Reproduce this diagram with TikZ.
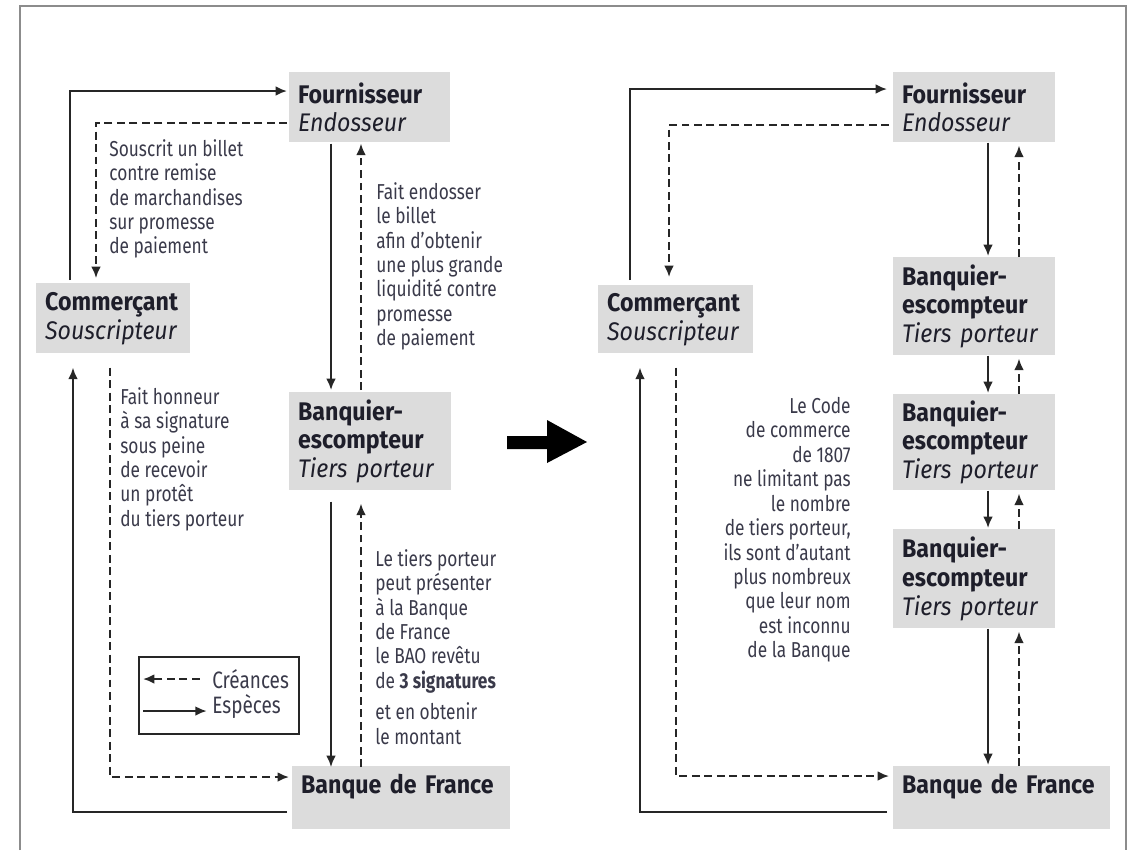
\documentclass[tikz,border=0pt]{standalone}
\usepackage{fontspec}
\setmainfont{Fira Sans}[FakeStretch=0.8]
\newfontfamily\nomfamily{Fira Sans}[FakeStretch=0.91]
\usepackage{tikz}
\usetikzlibrary{arrows.meta}
\usetikzlibrary{calc}
\definecolor{boxcolor}{HTML}{DCDCDC}
\definecolor{framecolor}{HTML}{8C8C8C}
\definecolor{notecolor}{HTML}{3A3A4A}
\definecolor{namecolor}{HTML}{1E1E2A}
\newcommand{\nomfont}{\nomfamily\fontsize{14.5}{16.4}\selectfont}
\newcommand{\notefont}{\fontsize{12.3}{13.9}\selectfont}
\tikzset{
  acteur/.style={fill=boxcolor, anchor=north west, align=left, inner xsep=5pt, inner ysep=0pt, font=\nomfont, text=namecolor},
  note/.style={anchor=north west, align=left, inner sep=0pt, font=\notefont, text=notecolor},
  especes/.style={black!85, line width=1.1pt, -{Latex[length=6.5pt,width=5.5pt]}},
  creances/.style={especes, dash pattern=on 4.5pt off 2.6pt},
}

\begin{document}
\begin{tikzpicture}[x=0.02cm,y=-0.02cm]
\useasboundingbox (0,0) rectangle (1137,850);
\draw[framecolor, line width=1.2pt] (20,850) -- (20,6) -- (1126,6) -- (1126,850);

%% schema de gauche
\node[acteur, text width=2.87cm, minimum height=1.4cm] (fourL) at (289,72) {\textbf{Fournisseur}\\\textit{Endosseur}};
\node[acteur, text width=2.73cm, minimum height=1.4cm] (comL) at (36,283) {\textbf{Commerçant}\\\textit{Souscripteur}};
\node[acteur, text width=2.89cm, minimum height=1.96cm] (banqL) at (289,392) {\textbf{Banquier-}\\\textbf{escompteur}\\\textit{Tiers porteur}};
\node[acteur, text width=4.01cm, minimum height=1.26cm] (bdfL) at (292,766) {\textbf{Banque de France}\\[-5pt]\strut};

\node[note] (t1) at (109,139) {Souscrit un billet\\contre remise\\de marchandises\\sur promesse\\de paiement};
\node[note] (t2) at (376,182) {Fait endosser\\le billet\\afin d’obtenir\\une plus grande\\liquidité contre\\promesse\\de paiement};
\node[note] (t3) at (120,387) {Fait honneur\\à sa signature\\sous peine\\de recevoir\\un protêt\\du tiers porteur};
\node[note] (t4) at (375,549) {Le tiers porteur\\peut présenter\\à la Banque\\de France\\le BAO revêtu\\de \textbf{3 signatures}\\[4pt]et en obtenir\\le montant};

\draw[especes] ($(comL.north west)+(34,-3)$) |- ($(fourL.north west)+(-2,19)$);
\draw[creances] ($(fourL.north west)+(-2,51)$) -| ($(comL.north west)+(60,-5)$);
\draw[especes] ($(fourL.south west)+(42,1)$) -- ($(banqL.north west)+(42,-2)$);
\draw[creances] ($(banqL.north west)+(72,-2)$) -- ($(fourL.south west)+(72,1)$);
\draw[especes] ($(bdfL.north west)+(-5,46)$) -| ($(comL.south west)+(37,14)$);
\draw[creances] ($(comL.south west)+(74,14)$) |- ($(bdfL.north west)+(-3,11)$);
\draw[especes] ($(banqL.south west)+(42,11)$) -- ($(bdfL.north west)+(39,1)$);
\draw[creances] ($(bdfL.north west)+(69,1)$) -- ($(banqL.south west)+(72,13)$);

%% legende
\node[draw, black!85, line width=1.2pt, minimum width=3.2cm, minimum height=1.54cm, anchor=north west] (legende) at (138,656) {};
\node[note, anchor=west, font=\fontsize{13.5}{15}\selectfont] (cre) at (212,679) {Créances};
\node[note, anchor=west, font=\fontsize{13.5}{15}\selectfont] (esp) at (212,707) {Espèces};
\coordinate (creL) at (143,679);
\coordinate (espL) at (143,711);
\draw[creances, shorten <=7pt] (cre.west) -- (creL);
\draw[especes, shorten >=3pt] (espL) -- (espL -| esp.west);

%% grosse fleche
\fill[black] (507,436) -- (547,436) -- (547,420) -- (587,442) -- (547,463) -- (547,449) -- (507,449) -- cycle;

%% schema de droite
\node[acteur, text width=2.89cm, minimum height=1.4cm] (fourR) at (893,72) {\textbf{Fournisseur}\\\textit{Endosseur}};
\node[acteur, text width=2.75cm, minimum height=1.36cm] (comR) at (598,285) {\textbf{Commerçant}\\\textit{Souscripteur}};
\node[acteur, text width=2.89cm, minimum height=1.96cm] (banqR1) at (893,257) {\textbf{Banquier-}\\\textbf{escompteur}\\\textit{Tiers porteur}};
\node[acteur, text width=2.89cm, minimum height=1.92cm] (banqR2) at (893,394) {\textbf{Banquier-}\\\textbf{escompteur}\\\textit{Tiers porteur}};
\node[acteur, text width=2.89cm, minimum height=1.98cm] (banqR3) at (893,529) {\textbf{Banquier-}\\\textbf{escompteur}\\\textit{Tiers porteur}};
\node[acteur, text width=3.99cm, minimum height=1.26cm] (bdfR) at (893,766) {\textbf{Banque de France}\\[-5pt]\strut};

\node[note, anchor=north east, align=right] (t5) at (851,397) {Le Code\\de commerce\\de 1807\\ne limitant pas\\le nombre\\de tiers porteur,\\ils sont d’autant\\plus nombreux\\que leur nom\\est inconnu\\de la Banque};

\draw[especes] ($(comR.north west)+(32,-5)$) |- ($(fourR.north west)+(-6,17)$);
\draw[creances] ($(fourR.north west)+(-4,53)$) -| ($(comR.north west)+(71,-8)$);
\draw[especes] ($(bdfR.north west)+(-6,46)$) -| ($(comR.south west)+(42,14)$);
\draw[creances] ($(comR.south west)+(78,14)$) |- ($(bdfR.north west)+(-4,10)$);
\foreach \a/\b in {fourR/banqR1, banqR1/banqR2, banqR2/banqR3, banqR3/bdfR} {
  \draw[especes] ($(\a.south west)+(95,0)$) -- ($(\b.north west)+(95,-1)$);
  \draw[creances] ($(\b.north west)+(126,0)$) -- ($(\a.south west)+(126,3)$);
}
\end{tikzpicture}
\end{document}
